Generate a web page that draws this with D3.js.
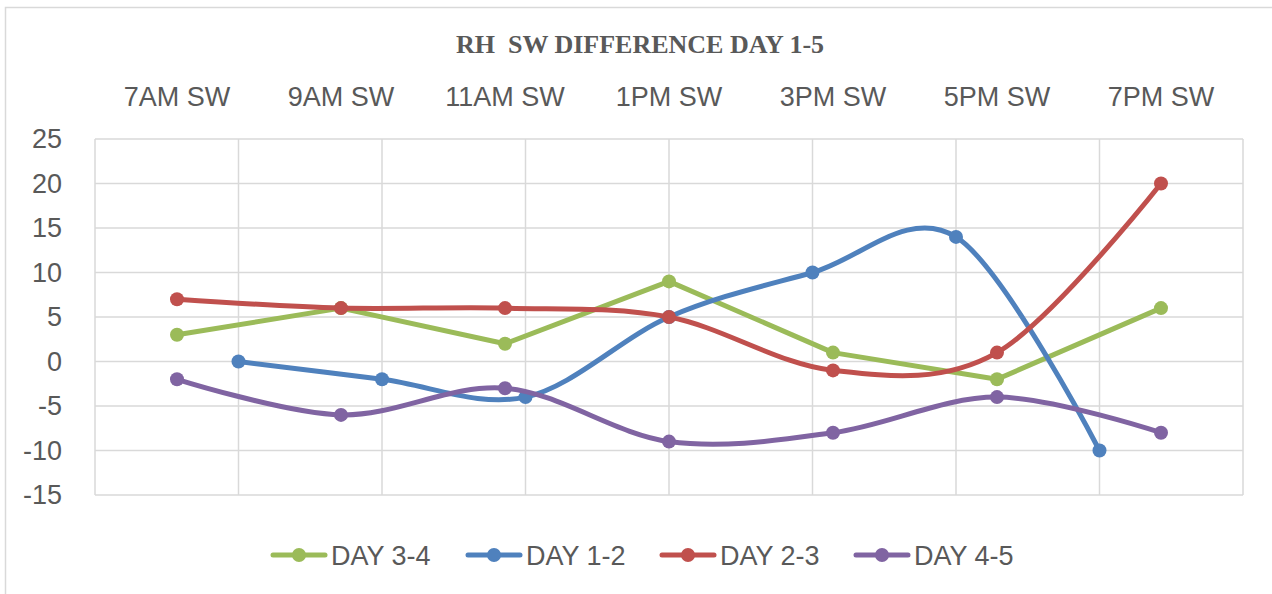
<!DOCTYPE html>
<html>
<head>
<meta charset="utf-8">
<script src="https://cdn.jsdelivr.net/npm/d3@7"></script>
<style>
  body { margin: 0; background: #fff; }
  text { fill: #595959; }
</style>
</head>
<body>
<div id="chart"></div>
<script>
const times = ['7AM SW', '9AM SW', '11AM SW', '1PM SW', '3PM SW', '5PM SW', '7PM SW'];
const day34 = [3, 6, 2, 9, 1, -2, 6];
const day12 = [0, -2, -4, 5, 10, 14, -10];
const day23 = [7, 6, 6, 5, -1, 1, 20];
const day45 = [-2, -6, -3, -9, -8, -4, -8];
const yTicks = [25, 20, 15, 10, 5, 0, -5, -10, -15];

const fullWidth = 1272;
const fullHeight = 594;
const plot = { left: 95, right: 1243, top: 139, bottom: 495 };
const font = '"Liberation Sans", Arial, sans-serif';

const svg = d3.select('#chart')
  .append('svg')
  .attr('width', fullWidth)
  .attr('height', fullHeight);

// chart area border
svg.append('rect')
  .attr('x', 5.5).attr('y', 7.5)
  .attr('width', 1280).attr('height', 620)
  .attr('fill', '#fff')
  .attr('stroke', '#d9d9d9')
  .attr('stroke-width', 1.5);

svg.append('text')
  .attr('x', 640).attr('y', 53)
  .attr('text-anchor', 'middle')
  .style('font-family', '"Liberation Serif", "Times New Roman", serif')
  .style('font-weight', 'bold')
  .style('font-size', '26px')
  .style('white-space', 'pre')
  .text('RH  SW DIFFERENCE DAY 1-5');

const yScale = d3.scaleLinear()
  .domain([-15, 25])
  .range([plot.bottom, plot.top]);

// categories on top axis (7 bands)
const xTop = d3.scaleBand()
  .domain(times)
  .range([plot.left, plot.right]);

// primary category axis: 8 slots, points on the tick marks
const xGrid = d3.scaleLinear()
  .domain([0, 8])
  .range([plot.left, plot.right]);

// gridlines
svg.append('g')
  .selectAll('line')
  .data(yTicks)
  .enter()
  .append('line')
  .attr('x1', plot.left).attr('x2', plot.right)
  .attr('y1', d => yScale(d)).attr('y2', d => yScale(d))
  .attr('stroke', '#d9d9d9')
  .attr('stroke-width', 1.5);

svg.append('g')
  .selectAll('line')
  .data(d3.range(0, 9))
  .enter()
  .append('line')
  .attr('x1', d => xGrid(d)).attr('x2', d => xGrid(d))
  .attr('y1', plot.top).attr('y2', plot.bottom)
  .attr('stroke', '#d9d9d9')
  .attr('stroke-width', 1.5);

// y axis labels (plain hyphen for negatives, like the original)
const yAxis = d3.axisLeft(yScale)
  .tickValues(yTicks)
  .tickFormat(d => String(d))
  .tickSize(0)
  .tickPadding(0);

svg.append('g')
  .attr('transform', `translate(${plot.left - 33}, 0)`)
  .call(yAxis)
  .call(g => g.select('.domain').remove())
  .selectAll('text')
  .style('font-family', font)
  .style('font-size', '27px')
  .attr('fill', '#595959');

// top category labels
const xAxis = d3.axisTop(xTop)
  .tickSize(0)
  .tickPadding(0);

svg.append('g')
  .attr('transform', 'translate(0, 106)')
  .call(xAxis)
  .call(g => g.select('.domain').remove())
  .selectAll('text')
  .style('font-family', font)
  .style('font-size', '27px')
  .attr('fill', '#595959');

const series = [
  { name: 'DAY 3-4', values: day34, color: '#9BBB59', x: (d, i) => xTop(times[i]) + xTop.bandwidth() / 2, curve: d3.curveLinear },
  { name: 'DAY 1-2', values: day12, color: '#4F81BD', x: (d, i) => xGrid(i + 1), curve: d3.curveCardinal.tension(0) },
  { name: 'DAY 2-3', values: day23, color: '#C0504D', x: (d, i) => xTop(times[i]) + xTop.bandwidth() / 2, curve: d3.curveCardinal.tension(0) },
  { name: 'DAY 4-5', values: day45, color: '#8064A2', x: (d, i) => xTop(times[i]) + xTop.bandwidth() / 2, curve: d3.curveCardinal.tension(0) }
];

series.forEach(s => {
  const line = d3.line()
    .x(s.x)
    .y(d => yScale(d))
    .curve(s.curve);

  const g = svg.append('g');
  g.append('path')
    .datum(s.values)
    .attr('d', line)
    .attr('fill', 'none')
    .attr('stroke', s.color)
    .attr('stroke-width', 5)
    .attr('stroke-linecap', 'round')
    .attr('stroke-linejoin', 'round');

  g.selectAll('circle')
    .data(s.values)
    .enter()
    .append('circle')
    .attr('cx', s.x)
    .attr('cy', d => yScale(d))
    .attr('r', 7)
    .attr('fill', s.color);
});

// legend
const legendX = [273, 468, 662, 856];
const legend = svg.append('g').attr('transform', 'translate(0, 555)');
series.forEach((s, i) => {
  const g = legend.append('g').attr('transform', `translate(${legendX[i]}, 0)`);
  g.append('line')
    .attr('x1', 0).attr('x2', 52)
    .attr('stroke', s.color)
    .attr('stroke-width', 5)
    .attr('stroke-linecap', 'round');
  g.append('circle')
    .attr('cx', 26).attr('r', 7)
    .attr('fill', s.color);
  g.append('text')
    .attr('x', 58).attr('y', 10)
    .style('font-family', font)
    .style('font-size', '27px')
    .text(s.name);
});
</script>
</body>
</html>
